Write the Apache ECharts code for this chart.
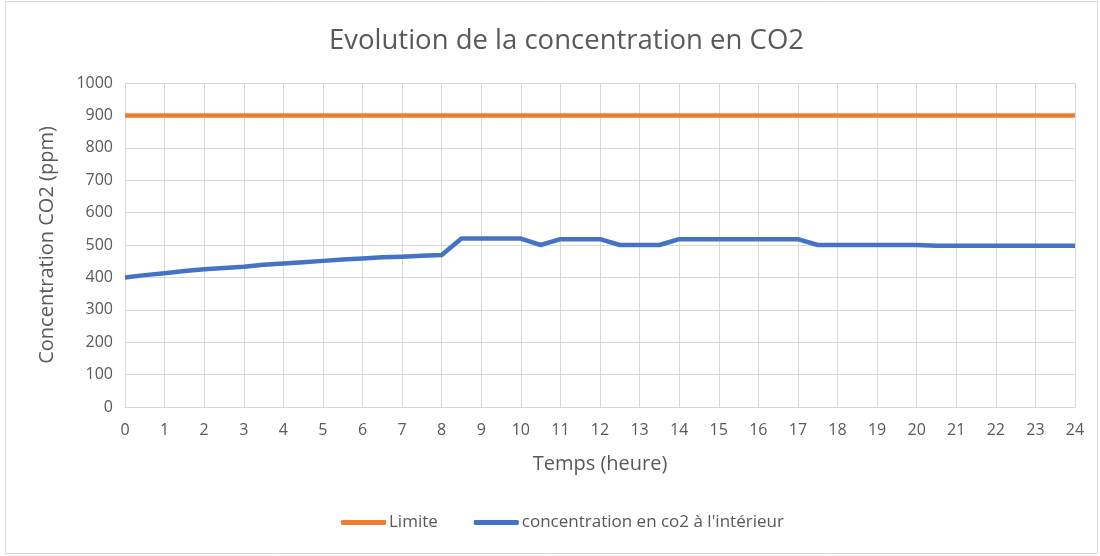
<!DOCTYPE html>
<html>
<head>
<meta charset="utf-8">
<style>
  html, body { margin: 0; padding: 0; background: #ffffff; }
  #chart { width: 1100px; height: 556px; }
</style>
<script src="https://cdn.jsdelivr.net/npm/echarts@6/dist/echarts.min.js"></script>
</head>
<body>
<div id="chart"></div>
<script>
// Hours of the day, sampled every half hour
const hours = [0, 0.5, 1, 1.5, 2, 2.5, 3, 3.5, 4, 4.5, 5, 5.5, 6, 6.5, 7, 7.5, 8,
  8.5, 9, 9.5, 10, 10.5, 11, 11.5, 12, 12.5, 13, 13.5, 14, 14.5, 15, 15.5, 16,
  16.5, 17, 17.5, 18, 18.5, 19, 19.5, 20, 20.5, 21, 21.5, 22, 22.5, 23, 23.5, 24];

// Indoor CO2 concentration (ppm)
const indoorCO2 = [400, 407, 413, 420, 425, 429, 433, 439, 443, 447, 451, 455, 458,
  462, 464, 467, 469, 520, 520, 520, 520, 500, 518, 518, 518, 500, 500, 500, 518,
  518, 518, 518, 518, 518, 518, 500, 500, 500, 500, 500, 500, 498, 498, 498, 498,
  498, 498, 498, 498];

// Limit threshold (ppm)
const limitCO2 = hours.map(() => 900);

const xTickLabels = Array.from({ length: 25 }, (_, i) => String(i));

const textColor = '#595959';
const gridColor = '#d9d9d9';
const fontFamily = '"Open Sans", "Liberation Sans", sans-serif';

const chart = echarts.init(document.getElementById('chart'), null, { renderer: 'canvas' });

chart.setOption({
  backgroundColor: '#ffffff',
  animation: false,
  graphic: [{
    type: 'rect',
    shape: { x: 5.5, y: 1.5, width: 1092, height: 552 },
    style: { fill: 'none', stroke: '#d9d9d9', lineWidth: 1 },
    silent: true
  }],
  title: {
    text: 'Evolution de la concentration en CO2',
    left: 324,
    top: 22,
    textStyle: { color: textColor, fontSize: 27.5, fontWeight: 'normal', fontFamily }
  },
  legend: {
    bottom: 20,
    left: 336,
    itemWidth: 45,
    itemHeight: 5,
    itemGap: 36,
    icon: 'roundRect',
    textStyle: { color: textColor, fontSize: 17, fontFamily, padding: [0, 0, 0, -2] },
    data: ['Limite', "concentration en co2 à l'intérieur"]
  },
  grid: { left: 125, right: 25, top: 83, bottom: 149, containLabel: false },
  xAxis: {
    type: 'value',
    min: 0,
    max: 24,
    interval: 1,
    name: 'Temps (heure)',
    nameLocation: 'middle',
    nameGap: 47,
    nameTextStyle: { color: textColor, fontSize: 20, fontFamily },
    axisLine: { show: true, lineStyle: { color: gridColor } },
    axisTick: { show: false },
    axisLabel: {
      color: textColor, fontSize: 16, fontFamily, margin: 15,
      formatter: (v) => xTickLabels[Math.round(v)]
    },
    splitLine: { show: true, lineStyle: { color: gridColor } }
  },
  yAxis: {
    type: 'value',
    min: 0,
    max: 1000,
    interval: 100,
    name: 'Concentration CO2 (ppm)',
    nameLocation: 'middle',
    nameGap: 68,
    nameTextStyle: { color: textColor, fontSize: 20, fontFamily },
    axisLine: { show: false },
    axisTick: { show: false },
    axisLabel: { color: textColor, fontSize: 16, fontFamily, margin: 12, formatter: (v) => String(v) },
    splitLine: { show: true, lineStyle: { color: gridColor } }
  },
  series: [
    {
      name: 'Limite',
      type: 'line',
      data: hours.map((h, i) => [h, limitCO2[i]]),
      symbol: 'none',
      lineStyle: { color: '#ED7D31', width: 4.5 },
      itemStyle: { color: '#ED7D31' },
      z: 3
    },
    {
      name: "concentration en co2 à l'intérieur",
      type: 'line',
      data: hours.map((h, i) => [h, indoorCO2[i]]),
      symbol: 'none',
      lineStyle: { color: '#4472C4', width: 4.5, join: 'round' },
      itemStyle: { color: '#4472C4' },
      z: 4
    }
  ]
});
</script>
</body>
</html>
